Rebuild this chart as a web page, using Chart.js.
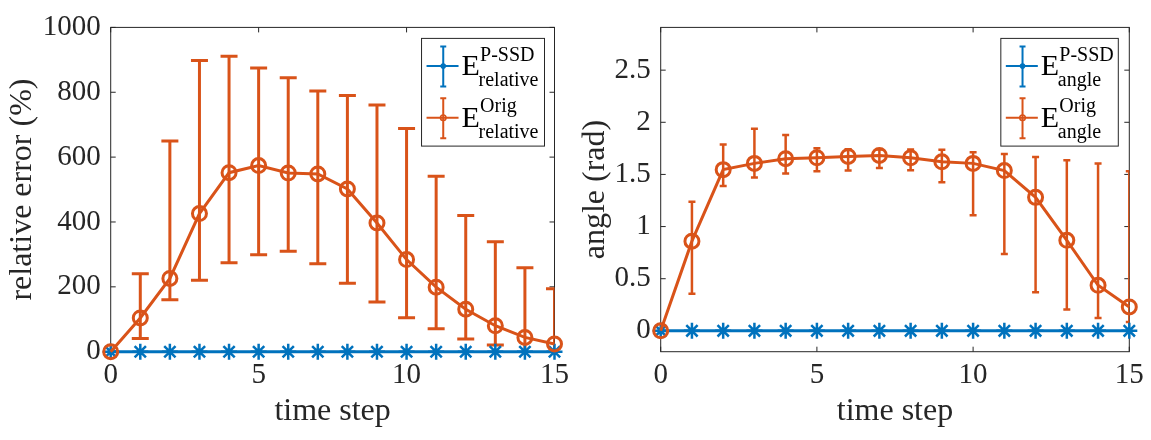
<!DOCTYPE html>
<html>
<head>
<meta charset="utf-8">
<script src="https://cdn.jsdelivr.net/npm/chart.js@4.4.0/dist/chart.umd.min.js"></script>
<style>
  body { margin: 0; background: #fff; }
  .panel { position: absolute; top: 0; height: 440px; }
  #left { left: 0; width: 575px; }
  #right { left: 575px; width: 576px; }
</style>
</head>
<body>
<div class="panel" id="left"><canvas id="errChart" width="575" height="440"></canvas></div>
<div class="panel" id="right"><canvas id="angleChart" width="576" height="440"></canvas></div>
<script>
// data
const steps = [0, 1, 2, 3, 4, 5, 6, 7, 8, 9, 10, 11, 12, 13, 14, 15];

const relPssd = [0, 0, 0, 0, 0, 0, 0, 0, 0, 0, 0, 0, 0, 0, 0, 0];
const relOrig = [0, 104, 226, 426, 552, 574, 551, 548, 502, 397, 284, 199, 131, 80, 44, 24];
const relOrigLow = [0, 41, 160, 220, 274, 299, 310, 271, 211, 153, 105, 71, 39, 21, -20, -40];
const relOrigHigh = [0, 240, 650, 898, 911, 875, 845, 804, 790, 761, 688, 541, 420, 339, 259, 194];

const angPssd = [0, 0, 0, 0, 0, 0, 0, 0, 0, 0, 0, 0, 0, 0, 0, 0];
const angOrig = [0, 0.86, 1.546, 1.606, 1.651, 1.66, 1.673, 1.682, 1.66, 1.621, 1.606, 1.537, 1.28, 0.868, 0.437, 0.229];
const angOrigLow = [0, 0.355, 1.389, 1.47, 1.51, 1.531, 1.537, 1.561, 1.54, 1.425, 1.108, 0.738, 0.371, 0.204, 0.123, 0.084];
const angOrigHigh = [0, 1.239, 1.787, 1.938, 1.877, 1.75, 1.741, 1.74, 1.74, 1.736, 1.712, 1.696, 1.666, 1.636, 1.606, 1.531];

const stepTicks = [0, 5, 10, 15];
const relTicks = [0, 200, 400, 600, 800, 1000];
const angTicks = [0, 0.5, 1, 1.5, 2, 2.5];

const BLUE = "#0072BD";
const ORANGE = "#D95319";
const AXIS = "#262626";
const SERIF = "'Liberation Serif', 'Times New Roman', serif";

Chart.defaults.font.family = SERIF;
Chart.defaults.color = AXIS;

const toPoints = (vals) => steps.map((s, i) => ({ x: s, y: vals[i] }));

// vertical error bars with caps
const errorBars = {
  id: "errorBars",
  beforeDatasetsDraw(chart) {
    const { ctx, chartArea, scales: { x, y } } = chart;
    ctx.save();
    ctx.beginPath();
    ctx.rect(chartArea.left, chartArea.top - 2, chartArea.width, chartArea.height + 2);
    ctx.clip();
    chart.data.datasets.forEach((ds) => {
      if (!ds.errLow) return;
      ctx.strokeStyle = ds.borderColor;
      ctx.lineWidth = ds.errWidth;
      const half = ds.capSize / 2;
      ds.data.forEach((p, i) => {
        const px = x.getPixelForValue(p.x);
        const top = y.getPixelForValue(ds.errHigh[i]);
        const bot = y.getPixelForValue(ds.errLow[i]);
        ctx.beginPath();
        ctx.moveTo(px, top);
        ctx.lineTo(px, bot);
        ctx.moveTo(px - half, top);
        ctx.lineTo(px + half, top);
        ctx.moveTo(px - half, bot);
        ctx.lineTo(px + half, bot);
        ctx.stroke();
      });
    });
    ctx.restore();
  },
};

// matlab style box with inward ticks
const axesBox = {
  id: "axesBox",
  beforeDatasetsDraw(chart) {
    const { ctx, chartArea: a, scales: { x, y } } = chart;
    ctx.save();
    ctx.strokeStyle = AXIS;
    ctx.lineWidth = 1;
    ctx.strokeRect(a.left, a.top, a.width, a.height);
    ctx.beginPath();
    x.ticks.forEach((t) => {
      const px = x.getPixelForValue(t.value);
      ctx.moveTo(px, a.bottom);
      ctx.lineTo(px, a.bottom - 5);
      ctx.moveTo(px, a.top);
      ctx.lineTo(px, a.top + 5);
    });
    y.ticks.forEach((t) => {
      const py = y.getPixelForValue(t.value);
      ctx.moveTo(a.left, py);
      ctx.lineTo(a.left + 5, py);
      ctx.moveTo(a.right, py);
      ctx.lineTo(a.right - 5, py);
    });
    ctx.stroke();
    ctx.restore();
  },
};

// legend with E^{sup}_{sub} labels
const matlabLegend = {
  id: "matlabLegend",
  afterDraw(chart, args, opts) {
    const { ctx, chartArea } = chart;
    ctx.save();
    ctx.font = "20px " + SERIF;
    let textW = 0;
    opts.entries.forEach((e) => {
      textW = Math.max(textW, ctx.measureText(e.sup).width, ctx.measureText(e.sub).width);
    });
    const w = 57 + textW + 6;
    const h = 107.7;
    const left = chartArea.right - opts.right - w;
    const top = chartArea.top + 11;
    ctx.fillStyle = "#fff";
    ctx.fillRect(left, top, w, h);
    ctx.strokeStyle = AXIS;
    ctx.lineWidth = 1;
    ctx.strokeRect(left, top, w, h);

    opts.entries.forEach((e, i) => {
      const cy = top + 27.7 + i * 51.7;
      const bx = left + 21.7;
      ctx.strokeStyle = e.color;
      ctx.lineWidth = 2;
      ctx.beginPath();
      ctx.moveTo(left + 5, cy);
      ctx.lineTo(left + 37, cy);
      ctx.moveTo(bx, cy - 19.5);
      ctx.lineTo(bx, cy + 20.5);
      ctx.moveTo(bx - 3, cy - 19.5);
      ctx.lineTo(bx + 3, cy - 19.5);
      ctx.moveTo(bx - 3, cy + 20.5);
      ctx.lineTo(bx + 3, cy + 20.5);
      ctx.stroke();
      ctx.beginPath();
      ctx.arc(bx, cy, 2.8, 0, Math.PI * 2);
      if (e.filled) {
        ctx.fillStyle = e.color;
        ctx.fill();
      } else {
        ctx.lineWidth = 1.5;
        ctx.stroke();
      }

      ctx.fillStyle = "#000";
      ctx.textBaseline = "alphabetic";
      ctx.textAlign = "left";
      ctx.font = "30px " + SERIF;
      ctx.fillText("E", left + 40, cy + 8.7);
      ctx.font = "20px " + SERIF;
      ctx.fillText(e.sup, left + 58.5, cy - 5.5);
      ctx.fillText(e.sub, left + 57, cy + 20.3);
    });
    ctx.restore();
  },
};

function makeChart(canvasId, cfg) {
  return new Chart(document.getElementById(canvasId), {
    type: "line",
    data: {
      datasets: [
        {
          label: "P-SSD",
          data: toPoints(cfg.pssd),
          borderColor: BLUE,
          backgroundColor: BLUE,
          borderWidth: 3,
          pointStyle: "star",
          pointRadius: 8,
          pointBorderWidth: 2.5,
          pointBorderColor: BLUE,
          tension: 0,
          clip: false,
          order: 2,
        },
        {
          label: "Orig",
          data: toPoints(cfg.orig),
          borderColor: ORANGE,
          backgroundColor: "rgba(0,0,0,0)",
          borderWidth: 3,
          pointStyle: "circle",
          pointRadius: 7,
          pointBorderWidth: 3,
          pointBorderColor: ORANGE,
          pointBackgroundColor: "rgba(0,0,0,0)",
          tension: 0,
          clip: false,
          order: 1,
          errLow: cfg.low,
          errHigh: cfg.high,
          errWidth: cfg.errWidth,
          capSize: cfg.capSize,
        },
      ],
    },
    options: {
      responsive: false,
      animation: false,
      events: [],
      layout: { padding: { top: 7.3, right: cfg.padRight, left: 0, bottom: 0 } },
      plugins: {
        legend: { display: false },
        tooltip: { enabled: false },
        matlabLegend: { right: cfg.legendRight, entries: cfg.entries },
      },
      scales: {
        x: {
          type: "linear",
          min: 0,
          max: 15,
          afterBuildTicks: (scale) => {
            scale.ticks = stepTicks.map((v) => ({ value: v }));
          },
          afterFit: (scale) => {
            scale.height = 88.3;
          },
          grid: { display: false, drawTicks: false },
          border: { display: false },
          ticks: {
            color: AXIS,
            font: { family: SERIF, size: 29 },
            padding: 6,
            maxRotation: 0,
            callback: (v) => String(v),
          },
          title: {
            display: true,
            text: "time step",
            color: AXIS,
            font: { family: SERIF, size: 32 },
            padding: { top: 0, bottom: 8.8 },
          },
        },
        y: {
          type: "linear",
          min: cfg.yMin,
          max: cfg.yMax,
          afterBuildTicks: (scale) => {
            scale.ticks = cfg.yTicks.map((v) => ({ value: v }));
          },
          afterFit: (scale) => {
            scale.width = cfg.yWidth;
          },
          grid: { display: false, drawTicks: false },
          border: { display: false },
          ticks: {
            color: AXIS,
            font: { family: SERIF, size: 29 },
            padding: 10,
            callback: (v) => String(v),
          },
          title: {
            display: true,
            text: cfg.yTitle,
            color: AXIS,
            font: { family: SERIF, size: 32 },
            padding: { top: cfg.yTitlePad, bottom: 0 },
          },
        },
      },
    },
    plugins: [axesBox, errorBars, matlabLegend],
  });
}

makeChart("errChart", {
  pssd: relPssd,
  orig: relOrig,
  low: relOrigLow,
  high: relOrigHigh,
  errWidth: 3,
  capSize: 17,
  yMin: 0,
  yMax: 1000,
  yTicks: relTicks,
  yWidth: 110.7,
  yTitle: "relative error (%)",
  yTitlePad: 3.5,
  padRight: 18.3,
  legendRight: 10,
  entries: [
    { color: BLUE, filled: true, sup: "P-SSD", sub: "relative" },
    { color: ORANGE, filled: false, sup: "Orig", sub: "relative" },
  ],
});

makeChart("angleChart", {
  pssd: angPssd,
  orig: angOrig,
  low: angOrigLow,
  high: angOrigHigh,
  errWidth: 2.5,
  capSize: 7,
  yMin: -0.2,
  yMax: 2.91,
  yTicks: angTicks,
  yWidth: 85.7,
  yTitle: "angle (rad)",
  yTitlePad: 1,
  padRight: 21.7,
  legendRight: 11,
  entries: [
    { color: BLUE, filled: true, sup: "P-SSD", sub: "angle" },
    { color: ORANGE, filled: false, sup: "Orig", sub: "angle" },
  ],
});
</script>
</body>
</html>
